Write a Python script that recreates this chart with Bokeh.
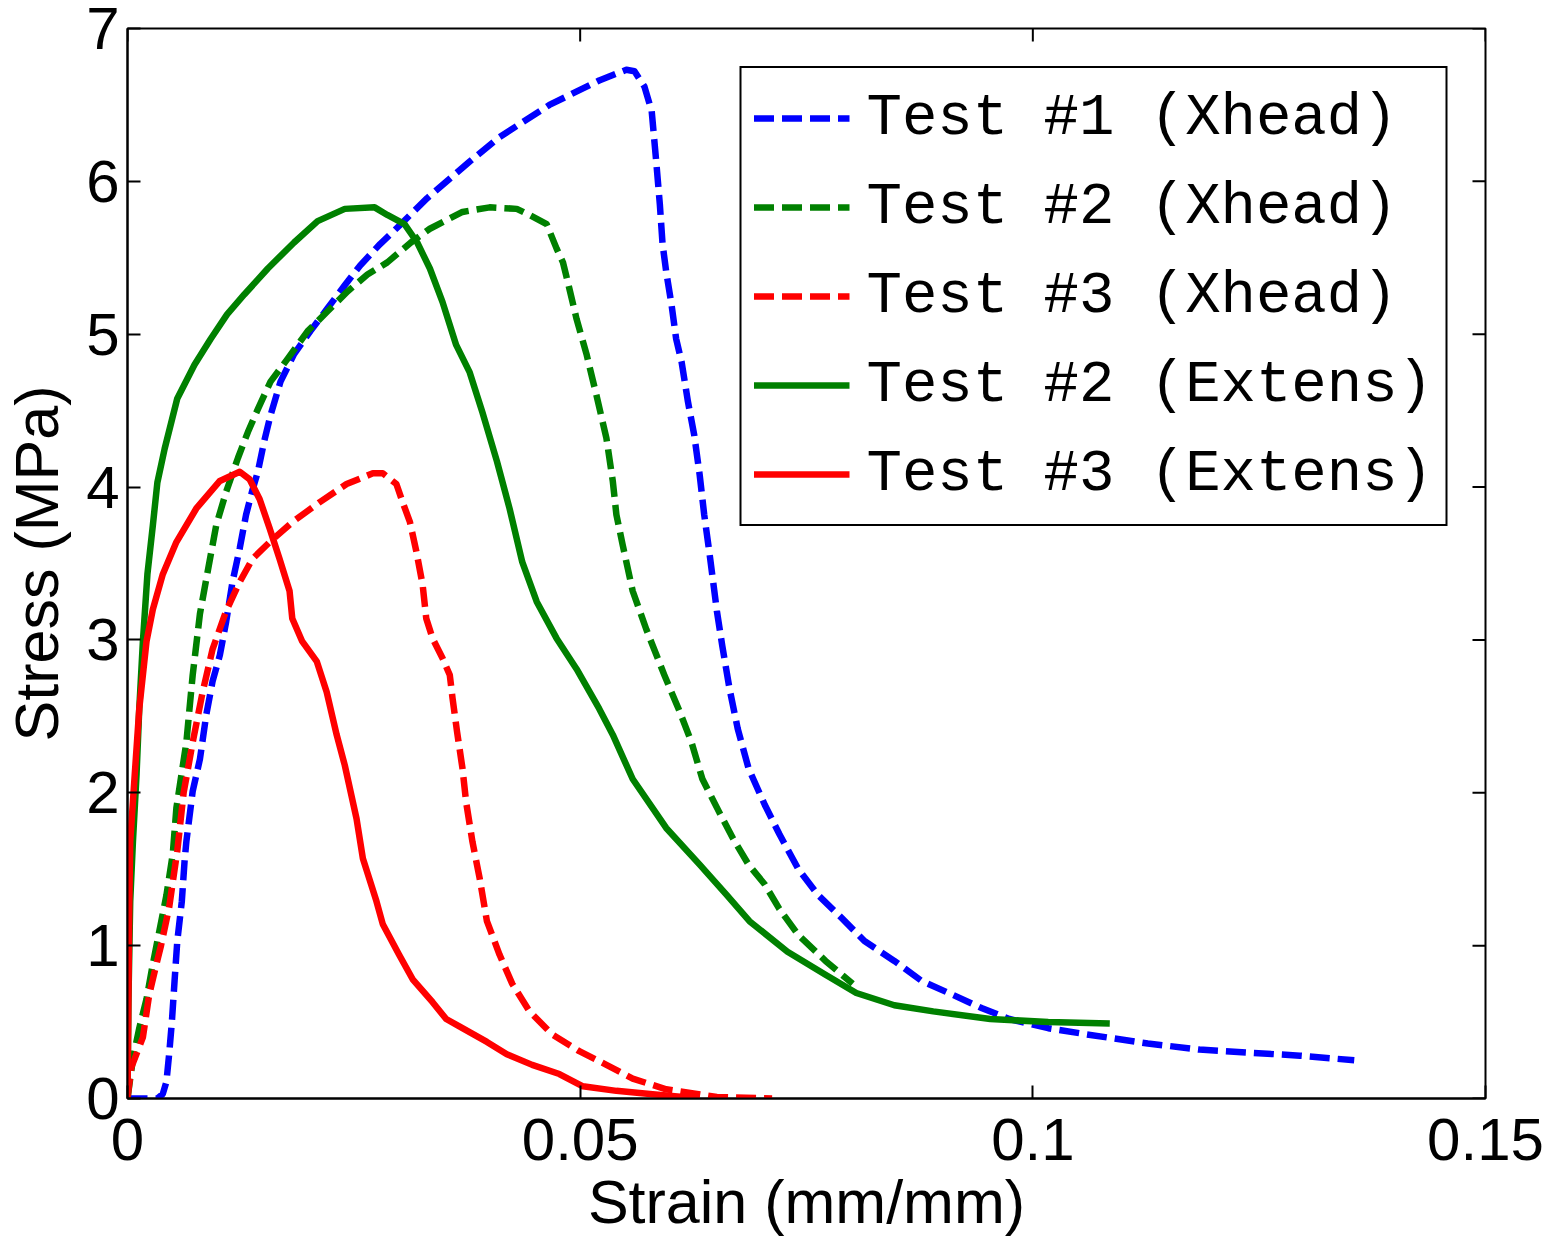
from math import pi
from bokeh.plotting import figure
from bokeh.models import FixedTicker, Range1d, Legend, LegendItem
from bokeh.embed import file_html
from bokeh.resources import INLINE

# strain (mm/mm) / stress (MPa)
t1_x_strain = [0.0, 0.0033, 0.0039, 0.0043, 0.0046, 0.0049, 0.0052, 0.0055, 0.0060, 0.0063,
               0.0065, 0.0072, 0.0080, 0.0087, 0.0094, 0.0102, 0.0109, 0.0116, 0.0124, 0.0131,
               0.0138, 0.0144, 0.0151, 0.0158, 0.0169, 0.0184, 0.0202, 0.0221, 0.0240, 0.0257,
               0.0279, 0.0302, 0.0331, 0.0378, 0.0411, 0.0466, 0.0521, 0.0551, 0.0560, 0.0571,
               0.0579, 0.0584, 0.0588, 0.0591, 0.0595, 0.0601, 0.0606, 0.0612, 0.0619, 0.0626,
               0.0632, 0.0637, 0.0643, 0.0651, 0.0657, 0.0665, 0.0674, 0.0686, 0.0704, 0.0720,
               0.0741, 0.0763, 0.0789, 0.0814, 0.0847, 0.0877, 0.0911, 0.0944, 0.0974, 0.1017,
               0.1059, 0.1127, 0.1184, 0.1239, 0.1295, 0.1355]
t1_x_stress = [0.0, 0.0, 0.03, 0.11, 0.29, 0.50, 0.77, 1.03, 1.29, 1.55,
               1.68, 2.01, 2.22, 2.51, 2.73, 2.90, 3.12, 3.38, 3.60, 3.82,
               3.98, 4.10, 4.30, 4.47, 4.69, 4.87, 5.02, 5.17, 5.32, 5.45,
               5.59, 5.72, 5.89, 6.13, 6.29, 6.50, 6.66, 6.73, 6.72, 6.62,
               6.46, 6.13, 5.85, 5.59, 5.41, 5.19, 4.97, 4.82, 4.56, 4.34,
               4.08, 3.82, 3.56, 3.19, 2.96, 2.68, 2.42, 2.16, 1.92, 1.73,
               1.50, 1.33, 1.18, 1.03, 0.90, 0.77, 0.68, 0.59, 0.52, 0.46,
               0.42, 0.36, 0.32, 0.30, 0.28, 0.25]

t2_x_strain = [0.0, 0.0006, 0.0013, 0.0021, 0.0028, 0.0035, 0.0043, 0.0050, 0.0054, 0.0065,
               0.0072, 0.0080, 0.0088, 0.0098, 0.0109, 0.0122, 0.0133, 0.0144, 0.0158, 0.0177,
               0.0199, 0.0221, 0.0243, 0.0265, 0.0287, 0.0313, 0.0334, 0.0370, 0.0400, 0.0430,
               0.0444, 0.0463, 0.0474, 0.0481, 0.0488, 0.0496, 0.0507, 0.0518, 0.0529, 0.0536,
               0.0540, 0.0547, 0.0558, 0.0573, 0.0593, 0.0610, 0.0623, 0.0635, 0.0653, 0.0669,
               0.0686, 0.0704, 0.0720, 0.0741, 0.0771, 0.0801]
t2_x_stress = [0.0, 0.26, 0.46, 0.65, 0.88, 1.09, 1.33, 1.60, 1.90, 2.33,
               2.77, 3.17, 3.43, 3.75, 3.97, 4.19, 4.36, 4.51, 4.69, 4.84,
               5.02, 5.15, 5.28, 5.39, 5.47, 5.60, 5.69, 5.80, 5.83, 5.82,
               5.78, 5.72, 5.56, 5.47, 5.30, 5.10, 4.87, 4.60, 4.32, 4.04,
               3.82, 3.62, 3.32, 3.07, 2.77, 2.53, 2.33, 2.09, 1.88, 1.70,
               1.53, 1.40, 1.24, 1.07, 0.90, 0.75]

t3_x_strain = [0.0, 0.0004, 0.0017, 0.0024, 0.0032, 0.0037, 0.0046, 0.0055, 0.0062, 0.0072,
               0.0083, 0.0094, 0.0109, 0.0124, 0.0138, 0.0157, 0.0182, 0.0212, 0.0242, 0.0271,
               0.0282, 0.0297, 0.0304, 0.0312, 0.0319, 0.0326, 0.0330, 0.0337, 0.0348, 0.0356,
               0.0359, 0.0364, 0.0370, 0.0374, 0.0381, 0.0389, 0.0397, 0.0411, 0.0425, 0.0444,
               0.0469, 0.0499, 0.0529, 0.0558, 0.0595, 0.0651, 0.0712]
t3_x_stress = [0.0, 0.20, 0.40, 0.68, 0.88, 1.00, 1.25, 1.62, 2.00, 2.33,
               2.66, 2.94, 3.19, 3.38, 3.53, 3.64, 3.77, 3.90, 4.02, 4.09,
               4.09, 4.02, 3.90, 3.77, 3.58, 3.36, 3.14, 3.01, 2.88, 2.77,
               2.62, 2.40, 2.16, 1.94, 1.68, 1.44, 1.16, 0.94, 0.75, 0.57,
               0.42, 0.31, 0.22, 0.13, 0.06, 0.01, 0.0]

t2_e_strain = [0.0, 0.0001, 0.0003, 0.0006, 0.0010, 0.0013, 0.0017, 0.0022, 0.0028, 0.0033,
               0.0041, 0.0055, 0.0074, 0.0092, 0.0110, 0.0129, 0.0155, 0.0184, 0.0210, 0.0240,
               0.0273, 0.0287, 0.0306, 0.0320, 0.0334, 0.0348, 0.0363, 0.0378, 0.0392, 0.0408,
               0.0422, 0.0436, 0.0452, 0.0474, 0.0496, 0.0521, 0.0536, 0.0558, 0.0595, 0.0632,
               0.0662, 0.0687, 0.0729, 0.0771, 0.0805, 0.0847, 0.0890, 0.0953, 0.1017, 0.1085]
t2_e_stress = [0.0, 0.63, 1.29, 1.68, 2.12, 2.55, 2.99, 3.43, 3.75, 4.03,
               4.25, 4.58, 4.80, 4.97, 5.13, 5.26, 5.43, 5.60, 5.74, 5.82,
               5.83, 5.78, 5.72, 5.60, 5.43, 5.21, 4.93, 4.75, 4.49, 4.17,
               3.86, 3.51, 3.25, 3.01, 2.81, 2.55, 2.38, 2.09, 1.77, 1.53,
               1.33, 1.16, 0.96, 0.81, 0.69, 0.61, 0.57, 0.52, 0.50, 0.49]

t3_e_strain = [0.0, 0.0001, 0.0002, 0.0003, 0.0008, 0.0013, 0.0021, 0.0028, 0.0039, 0.0054,
               0.0076, 0.0102, 0.0124, 0.0135, 0.0146, 0.0157, 0.0168, 0.0179, 0.0182, 0.0193,
               0.0209, 0.0220, 0.0231, 0.0240, 0.0253, 0.0260, 0.0275, 0.0282, 0.0300, 0.0315,
               0.0337, 0.0352, 0.0367, 0.0397, 0.0419, 0.0447, 0.0477, 0.0503, 0.0540, 0.0577,
               0.0632]
t3_e_stress = [0.0, 0.63, 1.29, 1.68, 2.12, 2.55, 2.99, 3.20, 3.43, 3.64,
               3.86, 4.04, 4.10, 4.05, 3.92, 3.73, 3.53, 3.32, 3.14, 2.99,
               2.86, 2.66, 2.38, 2.18, 1.83, 1.57, 1.29, 1.14, 0.94, 0.78,
               0.63, 0.52, 0.47, 0.37, 0.29, 0.22, 0.16, 0.08, 0.05, 0.03,
               0.0]

x_ticks = [0, 0.05, 0.1, 0.15]
x_tick_labels = ["0", "0.05", "0.1", "0.15"]
y_ticks = [0, 1, 2, 3, 4, 5, 6, 7]
labels = ["Test #1 (Xhead)", "Test #2 (Xhead)", "Test #3 (Xhead)",
          "Test #2 (Extens)", "Test #3 (Extens)"]

BLUE = "#0000ff"
GREEN = "#008000"
RED = "#ff0000"
DASH = "20 8"
LW = 6.5
TICK = 13

p = figure(frame_width=1358, frame_height=1070,
           x_range=Range1d(x_ticks[0], x_ticks[-1]), y_range=Range1d(y_ticks[0], y_ticks[-1]),
           output_backend="svg", toolbar_location=None,
           min_border_left=120, min_border_top=28, min_border_right=62, min_border_bottom=100,
           x_axis_label="Strain (mm/mm)", y_axis_label="Stress (MPa)")
p.grid.visible = False
p.outline_line_color = "black"
p.outline_line_width = 2
p.outline_line_alpha = 1.0

p.xaxis.ticker = FixedTicker(ticks=x_ticks)
p.xaxis.major_label_overrides = dict(zip(x_ticks, x_tick_labels))
p.yaxis.ticker = FixedTicker(ticks=y_ticks)

for ax in [p.xaxis[0], p.yaxis[0]]:
    ax.major_tick_in = TICK
    ax.major_tick_out = 0
    ax.minor_tick_in = 0
    ax.minor_tick_out = 0
    ax.axis_line_width = 2
    ax.major_tick_line_width = 2
    ax.major_label_text_font = "Liberation Sans"
    ax.major_label_text_font_size = "60px"
    ax.major_label_text_color = "black"
    ax.axis_label_text_font = "Liberation Sans"
    ax.axis_label_text_font_size = "61px"
    ax.axis_label_text_font_style = "normal"
    ax.axis_label_text_color = "black"
p.xaxis.major_label_standoff = 20
p.xaxis.axis_label_standoff = 5
p.yaxis.major_label_standoff = 8
p.yaxis.axis_label_standoff = 12

# inward ticks mirrored on the top and right edges of the box
p.ray(x=x_ticks, y=[y_ticks[-1]] * len(x_ticks), length=TICK, length_units="screen",
      angle=-pi / 2, line_color="black", line_width=2)
p.ray(x=[x_ticks[-1]] * len(y_ticks), y=y_ticks, length=TICK, length_units="screen",
      angle=pi, line_color="black", line_width=2)

r1 = p.line(t1_x_strain, t1_x_stress, line_color=BLUE, line_width=LW, line_dash=DASH, line_join="round")
r2 = p.line(t2_x_strain, t2_x_stress, line_color=GREEN, line_width=LW, line_dash=DASH, line_join="round")
r3 = p.line(t3_x_strain, t3_x_stress, line_color=RED, line_width=LW, line_dash=DASH, line_join="round")
r4 = p.line(t2_e_strain, t2_e_stress, line_color=GREEN, line_width=LW, line_join="round")
r5 = p.line(t3_e_strain, t3_e_stress, line_color=RED, line_width=LW, line_join="round")

legend = Legend(items=[LegendItem(label=lab, renderers=[r])
                       for lab, r in zip(labels, [r1, r2, r3, r4, r5])],
                location="top_right")
legend.margin = 38
legend.padding = 12
legend.spacing = 13
legend.glyph_width = 96
legend.glyph_height = 76
legend.label_height = 76
legend.label_standoff = 17
legend.label_text_font = "Liberation Mono"
legend.label_text_font_size = "59px"
legend.label_text_color = "black"
legend.border_line_color = "black"
legend.border_line_width = 2
legend.border_line_alpha = 1.0
legend.background_fill_alpha = 1.0
p.add_layout(legend)

open("out.html", "w").write(file_html(p, INLINE))
